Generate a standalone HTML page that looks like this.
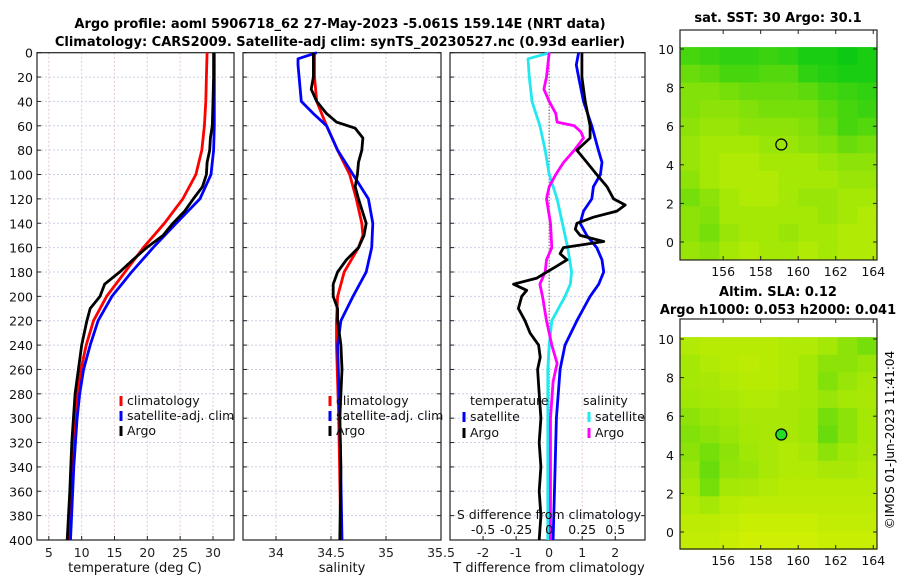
<!DOCTYPE html>
<html><head><meta charset="utf-8"><style>
body{margin:0;background:#fff;width:900px;height:580px;overflow:hidden}
svg{font-family:"DejaVu Sans","Liberation Sans",sans-serif}
</style></head><body>
<svg id="fig" width="900" height="580" viewBox="0 0 900 580" xmlns="http://www.w3.org/2000/svg">
<text x="340" y="28" font-size="13" font-weight="bold" text-anchor="middle">Argo profile: aoml 5906718_62 27-May-2023 -5.061S 159.14E (NRT data)</text>
<text x="340" y="46" font-size="13" font-weight="bold" text-anchor="middle">Climatology: CARS2009. Satellite-adj clim: synTS_20230527.nc (0.93d earlier)</text>
<text x="778" y="22" font-size="13" font-weight="bold" text-anchor="middle">sat. SST: 30 Argo: 30.1</text>
<text x="778" y="296" font-size="13" font-weight="bold" text-anchor="middle">Altim. SLA: 0.12</text>
<text x="778" y="314" font-size="13" font-weight="bold" text-anchor="middle">Argo h1000: 0.053 h2000: 0.041</text>
<text transform="translate(894,440) rotate(-90)" font-size="12" text-anchor="middle">©IMOS 01-Jun-2023 11:41:04</text>
</svg>
<script>
// ---------- data ----------
const depthTicks=[0,20,40,60,80,100,120,140,160,180,200,220,240,260,280,300,320,340,360,380,400];
const tTicks=[5,10,15,20,25,30];
const sTicks=[34,34.5,35,35.5];
const dTTicks=[-2,-1,0,1,2];
const dSTicks=[-0.5,-0.25,0,0.25,0.5];
const lonTicks=[156,158,160,162,164];
const latTicks=[0,2,4,6,8,10];

const climTDepth=[0,20,40,60,80,100,120,140,160,180,200,220,240,260,280,300,340,400];
const climT=[29.1,29.0,28.9,28.7,28.3,27.4,25.4,22.6,19.4,16.6,13.8,11.8,10.7,9.9,9.4,9.1,8.6,8.0];
const satTDepth=[0,20,40,60,80,100,120,140,160,180,200,220,240,260,280,300,340,400];
const satT=[30.2,30.2,30.2,30.2,30.1,29.7,28.0,24.4,20.9,17.6,14.6,12.5,11.3,10.3,9.7,9.3,8.8,8.3];
const argoTDepth=[0,20,40,60,70,80,90,100,110,120,130,140,150,160,170,180,190,200,210,220,240,260,280,320,360,400];
const argoT=[30.1,30.1,30.0,29.9,29.6,29.5,29.1,29.0,28.4,27.0,25.7,23.9,22.4,19.9,17.8,15.8,13.5,12.8,11.3,10.8,10.0,9.5,9.0,8.5,8.2,7.8];

const climSDepth=[0,20,40,60,80,100,120,140,150,160,180,200,220,240,300,400];
const climS=[34.35,34.35,34.37,34.46,34.56,34.67,34.73,34.78,34.79,34.75,34.62,34.56,34.55,34.55,34.57,34.59];
const satSDepth=[0,5,10,40,50,60,80,100,120,140,160,180,200,220,240,300,400];
const satS=[34.37,34.2,34.2,34.23,34.34,34.46,34.56,34.7,34.84,34.88,34.87,34.82,34.7,34.59,34.56,34.58,34.6];
const argoSDepth=[0,20,30,40,50,57,62,70,80,90,100,110,120,140,150,160,170,180,190,200,210,220,240,260,300,340,400];
const argoS=[34.34,34.34,34.32,34.37,34.46,34.55,34.72,34.79,34.78,34.75,34.74,34.72,34.75,34.82,34.8,34.75,34.64,34.56,34.52,34.52,34.56,34.56,34.59,34.6,34.58,34.59,34.58];

const dTArgoDepth=[0,20,40,60,70,75,80,90,100,110,115,120,125,130,135,140,145,150,155,160,165,170,175,180,185,190,195,200,210,220,230,240,250,260,280,300,320,340,360,380,400];
const dTArgo=[0.99,0.99,1.09,1.24,1.24,1.04,0.84,1.14,1.44,1.75,1.85,1.95,2.3,2.05,1.34,0.84,0.79,0.94,1.65,0.43,0.33,0.54,0.24,-0.07,-0.37,-1.08,-0.68,-0.83,-0.93,-0.73,-0.58,-0.32,-0.27,-0.35,-0.3,-0.25,-0.3,-0.25,-0.3,-0.25,-0.3];
const dTSatDepth=[0,10,20,40,60,80,90,100,110,120,130,140,150,160,170,180,190,200,210,220,240,260,300,350,400];
const dTSat=[0.89,0.82,0.89,1.04,1.29,1.49,1.6,1.55,1.34,1.29,1.04,0.94,1.14,1.44,1.6,1.65,1.5,1.24,1.04,0.84,0.48,0.33,0.22,0.17,0.12];
const dSSatDepth=[0,5,20,40,60,80,100,120,140,160,180,190,200,220,240,260,300,400];
const dSSat=[0.008,-0.16,-0.15,-0.13,-0.07,-0.03,0.0,0.06,0.1,0.14,0.17,0.16,0.12,0.02,0.0,-0.01,-0.01,-0.01];
const dSArgoDepth=[0,20,30,40,50,57,60,65,70,80,90,100,110,120,140,160,170,180,190,200,220,240,255,270,300,400];
const dSArgo=[0.0,-0.02,-0.04,0.0,0.05,0.06,0.19,0.24,0.26,0.19,0.11,0.05,0.0,-0.02,0.01,0.02,-0.02,-0.03,-0.07,-0.05,-0.02,0.02,0.06,0.03,0.01,0.01];

const sstGrid=[
[0.3,0.25,0.2,0.2,0.25,0.2,0.1,0.1,0.05,0.1],
[0.45,0.4,0.3,0.3,0.35,0.35,0.2,0.15,0.1,0.1],
[0.55,0.55,0.5,0.45,0.45,0.45,0.4,0.3,0.25,0.2],
[0.55,0.6,0.6,0.55,0.5,0.5,0.5,0.4,0.3,0.25],
[0.6,0.65,0.65,0.6,0.6,0.6,0.55,0.45,0.3,0.35],
[0.65,0.7,0.7,0.7,0.65,0.65,0.6,0.55,0.45,0.5],
[0.65,0.7,0.75,0.75,0.7,0.7,0.7,0.65,0.6,0.6],
[0.6,0.7,0.75,0.75,0.75,0.7,0.7,0.7,0.65,0.65],
[0.5,0.6,0.7,0.75,0.75,0.7,0.65,0.65,0.7,0.7],
[0.6,0.55,0.7,0.7,0.7,0.7,0.7,0.65,0.7,0.75],
[0.6,0.5,0.65,0.7,0.7,0.65,0.7,0.7,0.75,0.75],
[0.65,0.6,0.7,0.75,0.7,0.7,0.75,0.7,0.75,0.75]];
const slaGrid=[
[.75,.78,.78,.78,.78,.75,.75,.7,.6,.5],
[.7,.75,.78,.8,.78,.75,.7,.6,.6,.65],
[.7,.72,.75,.78,.78,.75,.7,.55,.65,.7],
[.68,.7,.72,.75,.75,.72,.7,.65,.7,.72],
[.6,.65,.68,.72,.72,.72,.68,.5,.6,.7],
[.55,.6,.65,.7,.72,.72,.68,.45,.6,.7],
[.6,.5,.6,.68,.72,.75,.72,.6,.68,.72],
[.65,.45,.62,.65,.72,.75,.75,.72,.72,.75],
[.7,.5,.7,.72,.75,.78,.78,.78,.78,.78],
[.75,.7,.78,.8,.8,.8,.8,.8,.8,.8],
[.8,.8,.82,.85,.85,.85,.85,.82,.82,.82],
[.82,.82,.85,.88,.88,.88,.88,.85,.85,.85]];
const argoLon=[159.1];
const argoLat=[5.05];

// ---------- helpers ----------
const NS="http://www.w3.org/2000/svg";
const fig=document.getElementById('fig');
function mk(tag,attrs,parent){const e=document.createElementNS(NS,tag);for(const k in attrs)e.setAttribute(k,attrs[k]);(parent||fig).appendChild(e);return e;}
function lin(d0,d1,r0,r1){return v=>r0+(v-d0)*(r1-r0)/(d1-d0);}
const PT=52.7,PB=540;
const yD=lin(0,400,PT,PB);

function panel(name,x0,x1,xs,xticks,xfmt){
  const g=mk('g',{});
  
  
  xticks.forEach(t=>{const l=mk('line',{x1:xs(t),x2:xs(t),y1:PT,y2:PB,stroke:'#e3c8d0','stroke-width':1,'stroke-dasharray':'2,2'},g);
    });
  depthTicks.forEach(t=>{const l=mk('line',{x1:x0,x2:x1,y1:yD(t),y2:yD(t),stroke:'#c9cfe8','stroke-width':1,'stroke-dasharray':'2,2'},g);
    
    mk('line',{x1:x0,x2:x0+4,y1:yD(t),y2:yD(t),stroke:'#222'},g);
    mk('line',{x1:x1-4,x2:x1,y1:yD(t),y2:yD(t),stroke:'#222'},g);});
  xticks.forEach(t=>{mk('line',{x1:xs(t),x2:xs(t),y1:PB,y2:PB-4,stroke:'#222'},g);
    const tx=mk('text',{x:xs(t),y:PB+17,'font-size':12.5,'text-anchor':'middle',fill:'#222'},g);tx.textContent=xfmt(t);
    });
  const b=mk('rect',{x:x0,y:PT,width:x1-x0,height:PB-PT,fill:'none',stroke:'#222','stroke-width':1.2},g);
  
  return g;
}
function line(g,name,xs,xv,dv,color,w){
  const pts=xv.map((v,i)=>xs(v).toFixed(1)+','+yD(dv[i]).toFixed(1)).join(' ');
  const p=mk('polyline',{points:pts,fill:'none',stroke:color,'stroke-width':w||2.8,'stroke-linejoin':'round'},g);
  
}
function legend(g,name,x,y,color,label){
  const lg=mk('g',{},g);
  
  
  mk('line',{x1:x,x2:x,y1:y-9,y2:y+1,stroke:color,'stroke-width':3},lg);
  const t=mk('text',{x:x+6,y:y,'font-size':12.5,fill:'#111'},lg);t.textContent=label;
}
function txt(g,name,x,y,s,anchor,size){const t=mk('text',{x:x,y:y,'font-size':size||12.5,'text-anchor':anchor||'start',fill:'#111'},g);t.textContent=s;
  return t;}

depthTicks.forEach(t=>{txt(fig,'y-tick-label',33,yD(t)+5,String(t),'end');});

// panel 1 temperature
const xT=lin(3.2,33.2,37,234);
const p1=panel('temperature-panel',37,234,xT,tTicks,String);
line(p1,'climatology-temperature-line',xT,climT,climTDepth,'#ff0000');
line(p1,'satellite-temperature-line',xT,satT,satTDepth,'#0000ff');
line(p1,'argo-temperature-line',xT,argoT,argoTDepth,'#000000');
legend(p1,'legend-climatology',121,405,'#ff0000','climatology');
legend(p1,'legend-satellite-adj-clim',121,420,'#0000ff','satellite-adj. clim');
legend(p1,'legend-argo',121,435,'#000000','Argo');
txt(p1,'x-axis-title-temperature',135,572,'temperature (deg C)','middle',13);

// panel 2 salinity
const xS=lin(33.7,35.5,243,441);
const p2=panel('salinity-panel',243,441,xS,sTicks,String);
line(p2,'climatology-salinity-line',xS,climS,climSDepth,'#ff0000');
line(p2,'satellite-salinity-line',xS,satS,satSDepth,'#0000ff');
line(p2,'argo-salinity-line',xS,argoS,argoSDepth,'#000000');
legend(p2,'legend-climatology',330,405,'#ff0000','climatology');
legend(p2,'legend-satellite-adj-clim',330,420,'#0000ff','satellite-adj. clim');
legend(p2,'legend-argo',330,435,'#000000','Argo');
txt(p2,'x-axis-title-salinity',342,572,'salinity','middle',13);

// panel 3 differences
const xDT=lin(-3,2.9,450,645);
const xDS=lin(-0.75,0.725,450,645);
const p3=panel('difference-panel',450,645,xDT,dTTicks,String);
const z=mk('line',{x1:xDT(0),x2:xDT(0),y1:PT,y2:PB,stroke:'#333','stroke-width':1,'stroke-dasharray':'1,2'},p3);

line(p3,'satellite-salinity-diff-line',xDS,dSSat,dSSatDepth,'#22e8f0');
line(p3,'argo-salinity-diff-line',xDS,dSArgo,dSArgoDepth,'#ff00ff');
line(p3,'satellite-temperature-diff-line',xDT,dTSat,dTSatDepth,'#0000ff');
line(p3,'argo-temperature-diff-line',xDT,dTArgo,dTArgoDepth,'#000000');
txt(p3,'legend-temperature-header',470,405,'temperature');
legend(p3,'legend-t-satellite',464,421,'#0000ff','satellite');
legend(p3,'legend-t-argo',464,437,'#000000','Argo');
txt(p3,'legend-salinity-header',583,405,'salinity');
legend(p3,'legend-s-satellite',589,421,'#22e8f0','satellite');
legend(p3,'legend-s-argo',589,437,'#ff00ff','Argo');
txt(p3,'s-axis-title',549,519,'S difference from climatology','middle');
dSTicks.forEach(t=>txt(p3,'s-tick-label',xDS(t),534,String(t),'middle'));
txt(p3,'x-axis-title-t-difference',549,572,'T difference from climatology','middle',13);

// maps
const colLo=[0,200,20],colHi=[235,245,0];
function col(v){return 'rgb('+colLo.map((c,i)=>Math.round(c+(colHi[i]-c)*v)).join(',')+')';}
function map(name,yTop,yBot,lat10y,lat0y,grid,fillMarker){
  const g=mk('g',{});
  
  
  const xL=lin(153.7,164.2,680,877);
  const yL=lin(0,10,lat0y,lat10y);
  const rows=grid.length,cols=grid[0].length;
  const lon0=153.7,dlon=10.5/cols,lat0=10.1,dlat=11/rows;
  grid.forEach((row,r)=>row.forEach((v,c)=>{
    const x=xL(lon0+c*dlon),y=yL(lat0-r*dlat);
    const rc=mk('rect',{x:x,y:y,width:xL(lon0+(c+1)*dlon)-x+0.5,height:yL(lat0-(r+1)*dlat)-y+0.5,fill:col(v)},g);
    
    
  }));
  argoLon.forEach((lo,i)=>{const c=mk('circle',{cx:xL(lo),cy:yL(argoLat[i]),r:5.5,fill:fillMarker?'#22dd22':'none',stroke:'#000','stroke-width':1.2},g);
    });
  const fr=mk('rect',{x:680,y:yTop,width:197,height:yBot-yTop,fill:'none',stroke:'#222','stroke-width':1.2},g);
  
  lonTicks.forEach(t=>{mk('line',{x1:xL(t),x2:xL(t),y1:yBot,y2:yBot-4,stroke:'#222'},g);mk('line',{x1:xL(t),x2:xL(t),y1:yTop,y2:yTop+4,stroke:'#222'},g);
    txt(g,'lon-tick-label',xL(t),yBot+16,String(t),'middle');});
  latTicks.forEach(t=>{mk('line',{x1:680,x2:684,y1:yL(t),y2:yL(t),stroke:'#222'},g);mk('line',{x1:873,x2:877,y1:yL(t),y2:yL(t),stroke:'#222'},g);
    txt(g,'lat-tick-label',674,yL(t)+5,String(t),'end');});
}
map('sst-map',30,260,49,242,sstGrid,false);
map('sla-map',319,549,339,532,slaGrid,true);
</script>
</body></html>
